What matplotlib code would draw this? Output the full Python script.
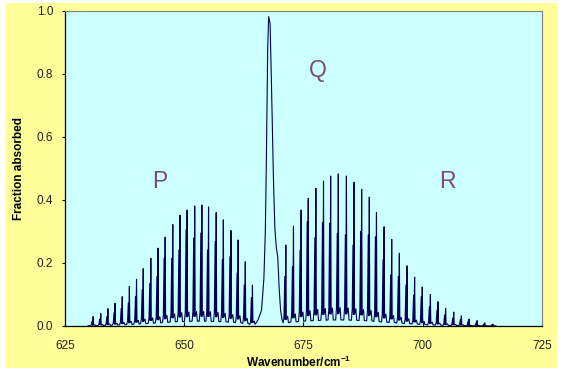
"""
CO2 bending band: fraction absorbed vs wavenumber (P, Q, R branches)
"""

import numpy as np
import matplotlib
matplotlib.use("Agg")
from matplotlib import pyplot as plt
from matplotlib.patches import Rectangle

plt.rcParams['font.family'] = ['Liberation Sans', 'DejaVu Sans']
plt.rcParams['mathtext.fontset'] = 'custom'
plt.rcParams['mathtext.bf'] = 'Liberation Sans:bold'
plt.rcParams['mathtext.rm'] = 'Liberation Sans'

# P branch lines: centre (cm-1), main height, companion height
p_pos = [630.9, 632.5, 634.0, 635.5, 637.0, 638.5, 640.0, 641.4, 643.0, 644.5,
         646.0, 647.6, 649.1, 650.6, 652.2, 653.7, 655.1, 656.7, 658.2, 659.8,
         661.3, 662.8, 664.3]
p_main = [0.030, 0.040, 0.055, 0.072, 0.093, 0.125, 0.148, 0.182, 0.215, 0.247,
          0.282, 0.322, 0.352, 0.368, 0.381, 0.384, 0.378, 0.360, 0.337, 0.303,
          0.273, 0.204, 0.130]
p_sec = [0.015, 0.022, 0.030, 0.042, 0.055, 0.073, 0.093, 0.114, 0.135, 0.157,
         0.215, 0.215, 0.241, 0.305, 0.279, 0.295, 0.241, 0.268, 0.210, 0.220,
         0.168, 0.130, 0.090]

# R branch lines
r_pos = [671.3, 672.9, 674.5, 676.0, 677.6, 679.2, 680.7, 682.3, 684.0, 685.6,
         687.2, 688.8, 690.3, 691.9, 693.5, 695.1, 696.7, 698.3, 699.9, 701.6,
         703.2, 704.8, 706.5, 708.1, 709.7, 711.4, 713.0, 714.7]
r_main = [0.257, 0.317, 0.368, 0.405, 0.437, 0.460, 0.476, 0.483, 0.476, 0.456,
          0.434, 0.409, 0.360, 0.315, 0.275, 0.231, 0.191, 0.155, 0.124, 0.100,
          0.077, 0.056, 0.044, 0.032, 0.022, 0.017, 0.010, 0.006]
r_sec = [0.157, 0.188, 0.240, 0.331, 0.280, 0.328, 0.326, 0.294, 0.289, 0.257,
         0.300, 0.289, 0.283, 0.210, 0.162, 0.157, 0.130, 0.098, 0.093, 0.061,
         0.050, 0.035, 0.025, 0.020, 0.014, 0.010, 0.006, 0.004]

# Q branch profile
q_x = [665.5, 666.2, 666.7, 667.0, 667.2, 667.5, 667.7, 668.0, 668.3, 668.7,
       669.0, 669.3, 669.6, 669.9, 670.2, 670.5]
q_y = [0.020, 0.050, 0.150, 0.300, 0.500, 0.880, 0.982, 0.960, 0.760, 0.470,
       0.310, 0.250, 0.220, 0.120, 0.050, 0.020]

branch_labels = ["P", "Q", "R"]
label_x = [644.9, 678.0, 705.1]
label_y = [0.46, 0.81, 0.46]

x_ticks = [625, 650, 675, 700, 725]
y_ticks = [0.0, 0.2, 0.4, 0.6, 0.8, 1.0]


def line_points(c, h, s):
    """narrow spike with a companion line and small shoulders"""
    dx = [-0.55, -0.38, -0.22, -0.13, 0.0, 0.1, 0.38, 0.55]
    dy = [0.04 * h, 0.12 * h, s, 0.08 * h, h, 0.08 * h, 0.12 * h, 0.04 * h]
    return [c + d for d in dx], dy


xs, ys = [629.8], [0.0]
for pos, main, sec in [(p_pos, p_main, p_sec), (r_pos, r_main, r_sec)]:
    for c, h, s in zip(pos, main, sec):
        px, py = line_points(c, h, s)
        xs += px
        ys += py
xs += q_x
ys += q_y
xs.append(715.4)
ys.append(0.0)
order = np.argsort(xs, kind="stable")
xs = np.array(xs)[order]
ys = np.array(ys)[order]

fig = plt.figure(figsize=(5.69, 3.78), dpi=100)
fig.patch.set_facecolor("white")
bg = Rectangle((0.0088, 0.0265), 0.970, 0.9655, transform=fig.transFigure,
               facecolor="#FFFF99", edgecolor="none", zorder=-10)
fig.add_artist(bg)

ax = fig.add_axes([0.1142, 0.1376, 0.8383, 0.8333])
ax.set_facecolor("#CCFFFF")
ax.plot(xs, ys, color="#000055", linewidth=0.8)

for lab, lx, ly in zip(branch_labels, label_x, label_y):
    ax.text(lx, ly, lab, fontsize=16.5, color="#7a4a78",
            ha="center", va="center")

ax.set_xlim(625, 725)
ax.set_ylim(0, 1.0)
ax.set_xticks(x_ticks)
ax.set_yticks(y_ticks)
ax.set_yticklabels(['%.1f' % v for v in y_ticks])
ax.tick_params(axis="x", direction="in", length=3, pad=10,
               labelsize=8.5, labelcolor="#222222")
ax.tick_params(axis="y", direction="out", length=2.5, pad=6,
               labelsize=8.5, labelcolor="#222222")

for side in ["top", "right"]:
    ax.spines[side].set_color("#808080")
    ax.spines[side].set_linewidth(0.8)
for side in ["left", "bottom"]:
    ax.spines[side].set_color("black")
    ax.spines[side].set_linewidth(0.9)

ax.set_xlabel(r"$\mathbf{Wavenumber/cm^{-1}}$", fontsize=8.5)
ax.xaxis.set_label_coords(0.49, -0.09)
ax.set_ylabel("Fraction absorbed", fontsize=8.5, fontweight="bold")
ax.yaxis.set_label_coords(-0.083, 0.5)

fig.savefig("out.png", dpi=100, facecolor=fig.get_facecolor())
